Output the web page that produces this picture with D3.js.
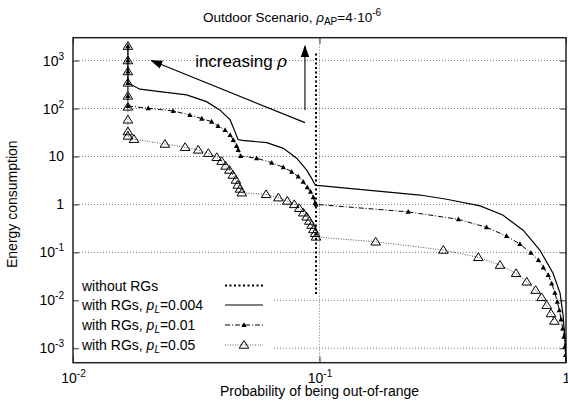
<!DOCTYPE html>
<html lang="en">
<head>
<meta charset="UTF-8">
<title>Outdoor Scenario - Energy consumption</title>
<script src="https://d3js.org/d3.v7.min.js"></script>
<style>
    body { margin: 0; background: #fff; }
    svg text { font-family: "Liberation Sans", Arial, Helvetica, sans-serif; fill: #000; }
</style>
</head>
<body>
<svg id="chart" width="568" height="404"></svg>
<script>
// ---- data ----
const xTicks = [0.01, 0.1, 1];
const xTickLabels = [["10", "-2"], ["10", "-1"], ["1", ""]];
const yTicks = [1e-3, 1e-2, 1e-1, 1, 10, 100, 1000];
const yTickLabels = [["10", "-3"], ["10", "-2"], ["10", "-1"], ["1", ""], ["10", ""], ["10", "2"], ["10", "3"]];

// without RGs (dotted vertical)
const noRgX = [0.0968, 0.0968];
const noRgY = [1400, 0.0135];

// with RGs, pL = 0.004 (solid)
const pl004X = [0.0167, 0.0167, 0.0187, 0.0225, 0.0289, 0.0348, 0.0394, 0.0434, 0.0454, 0.0467, 0.0486,
    0.0611, 0.0713, 0.0808, 0.0887, 0.0929, 0.0960, 0.0977, 0.256, 0.328, 0.448, 0.554, 0.670, 0.783,
    0.885, 0.946, 0.973, 0.991, 1.0];
const pl004Y = [2000, 337, 253, 225, 192, 139, 93.5, 57.8, 33, 22.6, 21.6,
    19.4, 14.8, 9.2, 5.2, 3.5, 2.54, 2.5, 1.57, 1.28, 0.93, 0.60, 0.29, 0.112,
    0.037, 0.0141, 0.0049, 0.00148, 0.0005];

// with RGs, pL = 0.01 (dash-dot, small filled triangles)
const pl01X = [0.0167, 0.0167, 0.0167, 0.0167, 0.0167, 0.0167, 0.0202, 0.0255, 0.0298, 0.0333, 0.0365,
    0.0388, 0.0414, 0.0434, 0.0447, 0.0461, 0.0468, 0.0479, 0.0556, 0.064, 0.0713, 0.0771, 0.082, 0.0859,
    0.0892, 0.092, 0.0944, 0.096, 0.0968, 0.229, 0.366, 0.476, 0.574, 0.650, 0.720, 0.773, 0.809, 0.847,
    0.875, 0.901, 0.922, 0.940, 0.955, 0.970, 0.981, 0.990, 0.996];
const pl01Y = [2000, 1000, 590, 342, 183, 113, 101, 89, 73.5, 61.5, 53.3,
    43.3, 35.7, 28.1, 22.1, 16.6, 13.7, 10.2, 9.2, 7.4, 5.95, 4.8, 3.8, 2.98,
    2.27, 1.84, 1.41, 1.08, 1.0, 0.70, 0.49, 0.333, 0.219, 0.149, 0.098, 0.069, 0.0486, 0.0336,
    0.0225, 0.0143, 0.0093, 0.0062, 0.0040, 0.00259, 0.00173, 0.00107, 0.00072];

// with RGs, pL = 0.05 (dotted, open triangles)
const pl05X = [0.0167, 0.0167, 0.0167, 0.0167, 0.0167, 0.0167, 0.0167, 0.0167, 0.0167, 0.01768,
    0.0236, 0.0285, 0.0322, 0.0354, 0.0383, 0.0401, 0.0416, 0.0431, 0.0445, 0.0458, 0.0466, 0.0476, 0.0484,
    0.0607, 0.0681, 0.074, 0.079, 0.0828, 0.0859, 0.0887, 0.0909, 0.0929, 0.0944, 0.096, 0.0968,
    0.169, 0.318, 0.441, 0.540, 0.627, 0.693, 0.753, 0.796, 0.835, 0.869, 0.897];
const pl05Y = [2000, 1000, 590, 342, 183, 108, 58, 33, 26.8, 22.9,
    18.2, 15.6, 13.7, 11.7, 9.6, 7.98, 6.33, 5.22, 4.11, 3.23, 2.54, 2.10, 1.75,
    1.62, 1.38, 1.18, 1.0, 0.83, 0.67, 0.55, 0.45, 0.37, 0.30, 0.25, 0.21,
    0.166, 0.112, 0.0787, 0.0543, 0.0365, 0.0243, 0.0163, 0.0115, 0.0079, 0.0053, 0.0037];

const legendLabels = ["without RGs", "with RGs, ", "with RGs, ", "with RGs, "];
const legendPL = ["", "0.004", "0.01", "0.05"];

// ---- layout ----
const margin = { left: 73, right: 2, top: 37.7, bottom: 41.3 };
const W = 568, H = 404;
const svg = d3.select("#chart");

const x = d3.scaleLog().domain([0.01, 1]).range([margin.left, W - margin.right]);
const y = d3.scaleLog().domain([5e-4, 3000]).range([H - margin.bottom, margin.top]);
const x0 = x.range()[0], x1 = x.range()[1], y0 = y.range()[0], y1 = y.range()[1];

svg.append("defs").append("clipPath").attr("id", "clip")
    .append("rect").attr("x", x0).attr("y", y1).attr("width", x1 - x0).attr("height", y0 - y1);

svg.select("defs").append("marker")
    .attr("id", "head").attr("viewBox", "0 0 10 10").attr("refX", 9).attr("refY", 5)
    .attr("markerWidth", 12).attr("markerHeight", 12).attr("markerUnits", "userSpaceOnUse")
    .attr("orient", "auto")
    .append("path").attr("d", "M0,1.5 L10,5 L0,8.5 Z").attr("fill", "#000");

// grid
const grid = svg.append("g");
grid.selectAll("line.h").data(yTicks).join("line")
    .attr("x1", x0).attr("x2", x1).attr("y1", d => y(d)).attr("y2", d => y(d))
    .attr("stroke", "#777").attr("stroke-width", 1).attr("stroke-dasharray", "1,2");
grid.append("line")
    .attr("x1", x(0.1)).attr("x2", x(0.1)).attr("y1", y0).attr("y2", y1)
    .attr("stroke", "#777").attr("stroke-width", 1).attr("stroke-dasharray", "1,2");

// legend box blanks the grid under it
svg.append("rect").attr("x", x0 + 1).attr("y", 274).attr("width", 198).attr("height", y0 - 275)
    .attr("fill", "#fff");

// axes with inward ticks, mirrored
function supLabels(sel, labels, anchor) {
    sel.selectAll(".tick text").each(function (d, i) {
        const t = d3.select(this).text("").attr("text-anchor", anchor);
        t.append("tspan").text(labels[i][0]);
        if (labels[i][1]) {
            t.append("tspan").attr("dy", -6).attr("font-size", 10).text(labels[i][1]);
        }
    });
}
const gLeft = svg.append("g").attr("transform", `translate(${x0},0)`)
    .call(d3.axisLeft(y).tickValues(yTicks).tickSizeInner(-6).tickSizeOuter(0).tickPadding(9));
supLabels(gLeft, yTickLabels, "end");
svg.append("g").attr("transform", `translate(${x1},0)`)
    .call(d3.axisRight(y).tickValues(yTicks).tickSizeInner(-6).tickSizeOuter(0).tickFormat(""));
const gBottom = svg.append("g").attr("transform", `translate(0,${y0})`)
    .call(d3.axisBottom(x).tickValues(xTicks).tickSizeInner(-6).tickSizeOuter(0).tickPadding(10));
supLabels(gBottom, xTickLabels, "middle");
svg.append("g").attr("transform", `translate(0,${y1})`)
    .call(d3.axisTop(x).tickValues(xTicks).tickSizeInner(-6).tickSizeOuter(0).tickFormat(""));
svg.selectAll(".domain").remove();
svg.selectAll(".tick line").attr("stroke", "#333");
svg.selectAll(".tick text").attr("font-size", 14).attr("fill", "#000")
    .attr("font-family", "Liberation Sans, Arial, sans-serif");

svg.append("rect").attr("x", x0).attr("y", y1).attr("width", x1 - x0).attr("height", y0 - y1)
    .attr("fill", "none").attr("stroke", "#222").attr("stroke-width", 1.5);

// series
const plot = svg.append("g").attr("clip-path", "url(#clip)");
const line = d3.line().x(d => x(d[0])).y(d => y(d[1]));
const zipXY = (xs, ys) => xs.map((v, i) => [v, ys[i]]);

const s05 = zipXY(pl05X, pl05Y);
const s01 = zipXY(pl01X, pl01Y);
const s004 = zipXY(pl004X, pl004Y);
const sNo = zipXY(noRgX, noRgY);

plot.append("path").datum(s05).attr("d", line)
    .attr("fill", "none").attr("stroke", "#555").attr("stroke-width", 1).attr("stroke-dasharray", "1,1.5");
plot.append("path").datum(s01).attr("d", line)
    .attr("fill", "none").attr("stroke", "#000").attr("stroke-width", 1).attr("stroke-dasharray", "5,2,1,2");
plot.append("path").datum(s004).attr("d", line)
    .attr("fill", "none").attr("stroke", "#000").attr("stroke-width", 1.2);
plot.append("path").datum(sNo).attr("d", line)
    .attr("fill", "none").attr("stroke", "#000").attr("stroke-width", 2).attr("stroke-dasharray", "2,2.5");

const bigTri = "M0,-4.5 L4.8,3.2 L-4.8,3.2 Z";
const smallTri = "M0,-2.8 L2.6,2 L-2.6,2 Z";
plot.selectAll("path.m01").data(s01).join("path").attr("class", "m01")
    .attr("transform", d => `translate(${x(d[0])},${y(d[1])})`)
    .attr("d", smallTri).attr("fill", "#000");
plot.selectAll("path.m05").data(s05).join("path").attr("class", "m05")
    .attr("transform", d => `translate(${x(d[0])},${y(d[1])})`)
    .attr("d", bigTri).attr("fill", "none").attr("stroke", "#000").attr("stroke-width", 1);

// annotation: increasing rho
const arrowTail = [0.0873, 50.8], arrowHead = [0.0208, 1000];
svg.append("line")
    .attr("x1", x(arrowTail[0])).attr("y1", y(arrowTail[1]))
    .attr("x2", x(arrowHead[0])).attr("y2", y(arrowHead[1]))
    .attr("stroke", "#000").attr("stroke-width", 1.1).attr("marker-end", "url(#head)");
svg.append("line")
    .attr("x1", x(0.0873)).attr("y1", y(93.5))
    .attr("x2", x(0.0873)).attr("y2", y(2000))
    .attr("stroke", "#000").attr("stroke-width", 1.1).attr("marker-end", "url(#head)");
const ann = svg.append("text").attr("x", x(0.0313)).attr("y", y(738)).attr("font-size", 17);
ann.append("tspan").text("increasing ");
ann.append("tspan").attr("font-style", "italic").text("\u03c1");

// legend
const legY = [290.5, 310, 330, 350];
const leg = svg.append("g");
legendLabels.forEach((lab, i) => {
    const t = leg.append("text").attr("x", 82).attr("y", legY[i]).attr("font-size", 14);
    t.append("tspan").text(lab);
    if (legendPL[i]) {
        t.append("tspan").attr("font-style", "italic").text("p");
        t.append("tspan").attr("font-style", "italic").attr("font-size", 10).attr("dy", 3).text("L");
        t.append("tspan").attr("dy", -3).text("=" + legendPL[i]);
    }
});
const ly = legY.map(v => v - 5);
leg.append("line").attr("x1", 225).attr("x2", 263).attr("y1", ly[0]).attr("y2", ly[0])
    .attr("stroke", "#000").attr("stroke-width", 2).attr("stroke-dasharray", "2,2.5");
leg.append("line").attr("x1", 225).attr("x2", 263).attr("y1", ly[1]).attr("y2", ly[1])
    .attr("stroke", "#000").attr("stroke-width", 1.2);
leg.append("line").attr("x1", 225).attr("x2", 263).attr("y1", ly[2]).attr("y2", ly[2])
    .attr("stroke", "#000").attr("stroke-width", 1).attr("stroke-dasharray", "5,2,1,2");
leg.append("path").attr("d", smallTri).attr("transform", `translate(244,${ly[2]})`).attr("fill", "#000");
leg.append("line").attr("x1", 225).attr("x2", 263).attr("y1", ly[3]).attr("y2", ly[3])
    .attr("stroke", "#555").attr("stroke-width", 1).attr("stroke-dasharray", "1,1.5");
leg.append("path").attr("d", bigTri).attr("transform", `translate(244,${ly[3]})`)
    .attr("fill", "none").attr("stroke", "#000");

// title and axis labels
const title = svg.append("text").attr("x", 292).attr("y", 22).attr("text-anchor", "middle").attr("font-size", 13.5);
title.append("tspan").text("Outdoor Scenario, ");
title.append("tspan").attr("font-style", "italic").text("\u03c1");
title.append("tspan").attr("font-size", 10).attr("dy", 3).text("AP");
title.append("tspan").attr("dy", -3).text("=4\u00b710");
title.append("tspan").attr("font-size", 10).attr("dy", -6).text("-6");

svg.append("text").attr("x", (x0 + x1) / 2).attr("y", 396).attr("text-anchor", "middle")
    .attr("font-size", 14).text("Probability of being out-of-range");
svg.append("text").attr("transform", `translate(17,${(y0 + y1) / 2 + 4}) rotate(-90)`)
    .attr("text-anchor", "middle").attr("font-size", 14).text("Energy consumption");
</script>
</body>
</html>
